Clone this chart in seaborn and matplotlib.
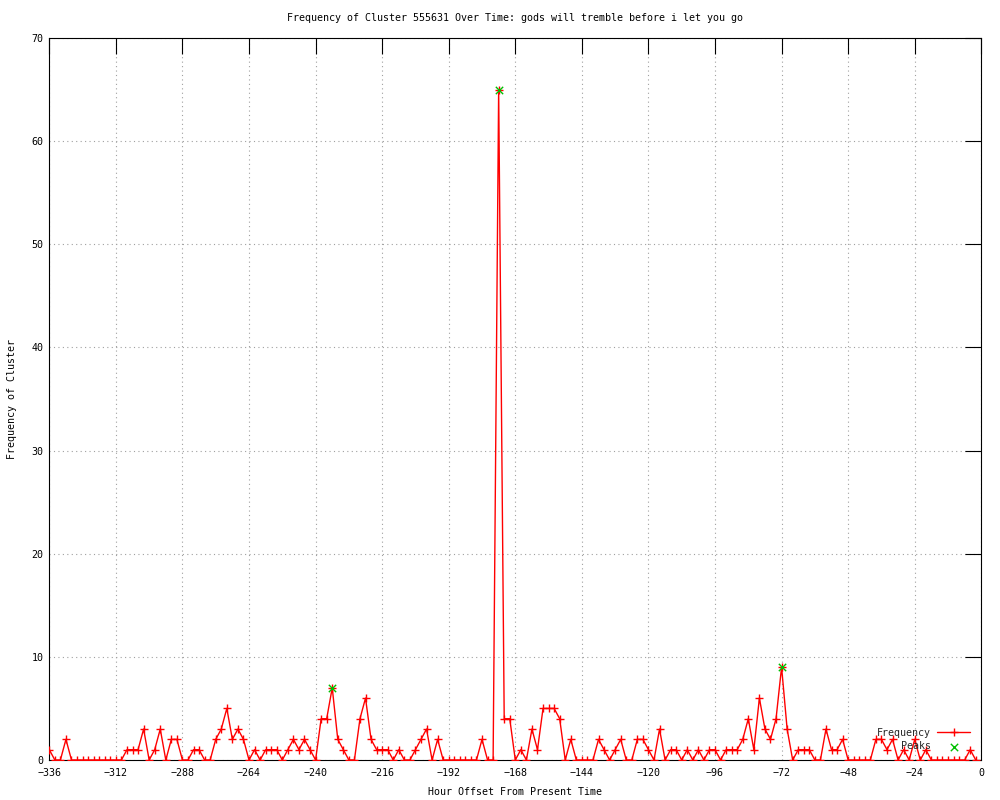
import numpy as np
import pandas as pd
import matplotlib
matplotlib.use("Agg")
import matplotlib.pyplot as plt
import seaborn as sns

# ---- data (hour offsets every 2 h) ----
hours = list(range(-336, 0, 2))
frequency = [
    1, 0, 0, 2, 0, 0, 0, 0, 0, 0, 0, 0, 0, 0, 1, 1, 1, 3, 0, 1,
    3, 0, 2, 2, 0, 0, 1, 1, 0, 0, 2, 3, 5, 2, 3, 2, 0, 1, 0, 1,
    1, 1, 0, 1, 2, 1, 2, 1, 0, 4, 4, 7, 2, 1, 0, 0, 4, 6, 2, 1,
    1, 1, 0, 1, 0, 0, 1, 2, 3, 0, 2, 0, 0, 0, 0, 0, 0, 0, 2, 0,
    0, 65, 4, 4, 0, 1, 0, 3, 1, 5, 5, 5, 4, 0, 2, 0, 0, 0, 0, 2,
    1, 0, 1, 2, 0, 0, 2, 2, 1, 0, 3, 0, 1, 1, 0, 1, 0, 1, 0, 1,
    1, 0, 1, 1, 1, 2, 4, 1, 6, 3, 2, 4, 9, 3, 0, 1, 1, 1, 0, 0,
    3, 1, 1, 2, 0, 0, 0, 0, 0, 2, 2, 1, 2, 0, 1, 0, 2, 0, 1, 0,
    0, 0, 0, 0, 0, 0, 1, 0,
]
peak_hours = [-234, -174, -72]
peak_values = [7, 65, 9]

x_ticks = list(range(-336, 1, 24))
y_ticks = list(range(0, 71, 10))

title = "Frequency of Cluster 555631 Over Time: gods will tremble before i let you go"
x_label = "Hour Offset From Present Time"
y_label = "Frequency of Cluster"

df = pd.DataFrame({"hour": hours, "freq": frequency})
peaks = pd.DataFrame({"hour": peak_hours, "freq": peak_values})

sns.set_theme(style="white")
FONT = ["DejaVu Sans Mono", "DejaVu Sans"]
plt.rcParams["font.family"] = FONT
FS = 7.2

fig = plt.figure(figsize=(10, 8), dpi=100)
ax = fig.add_axes([0.0493, 0.05, 0.9320, 0.9025])

sns.lineplot(data=df, x="hour", y="freq", ax=ax, color="#ff0000",
             linewidth=1.0, marker="+", markersize=6,
             markeredgewidth=1.0, markeredgecolor="#ff0000",
             label="Frequency", zorder=3)
sns.scatterplot(data=peaks, x="hour", y="freq", ax=ax, color="#00c000",
                marker="x", s=28, linewidth=1.0, label="    Peaks", zorder=4)

ax.set_xlim(-336, 0)
ax.set_ylim(0, 70)
ax.set_xticks(x_ticks)
ax.set_yticks(y_ticks)
ax.tick_params(axis="both", which="major", direction="in", length=11.5,
               width=0.8, color="black", labelsize=FS, top=True, right=True,
               labelcolor="black")
ax.tick_params(axis="x", pad=6)
ax.tick_params(axis="y", pad=4)
for lab in ax.get_xticklabels() + ax.get_yticklabels():
    lab.set_family(FONT)

ax.grid(True, color="#a0a0a0", linestyle=(0, (1, 3)), linewidth=0.8)
ax.set_axisbelow(True)
for s in ax.spines.values():
    s.set_color("black")
    s.set_linewidth(0.8)
    s.set_visible(True)

ax.set_title(title, fontsize=FS, pad=12, family=FONT, color="black")
ax.set_xlabel(x_label, fontsize=FS, family=FONT, color="black")
ax.set_ylabel(y_label, fontsize=FS, family=FONT, color="black")
ax.xaxis.set_label_coords(0.5, -0.037)
ax.yaxis.set_label_coords(-0.035, 0.5)

leg = ax.legend(loc="lower right", bbox_to_anchor=(0.988, 0.012),
                frameon=False, markerfirst=False, fontsize=FS,
                handlelength=3.3, handletextpad=0.6, labelspacing=0.35,
                borderpad=0, borderaxespad=0, prop={"family": FONT, "size": FS})

fig.savefig("out.png", dpi=100, facecolor="white")
